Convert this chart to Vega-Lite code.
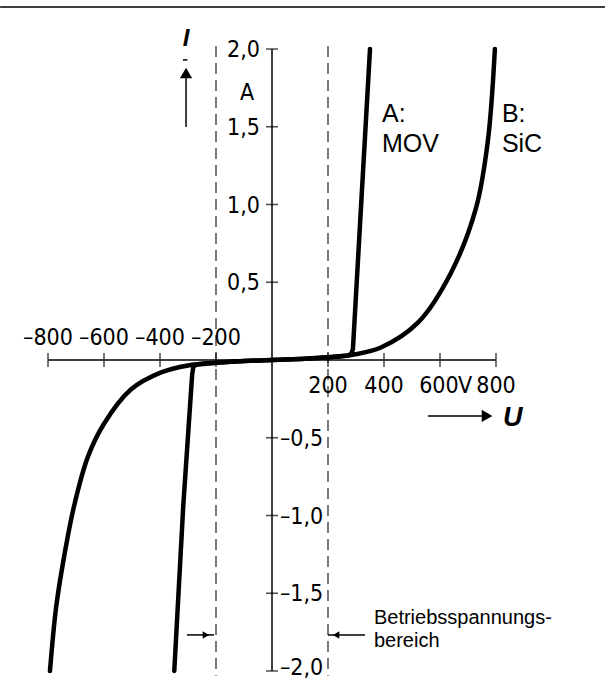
{
  "$schema": "https://vega.github.io/schema/vega-lite/v6.json",
  "width": 448,
  "height": 622,
  "autosize": {"type": "none"},
  "padding": {"left": 48, "top": 49, "right": 109, "bottom": 11},
  "background": "white",
  "config": {"view": {"stroke": null}},
  "datasets": {
    "curves": [
      {"s": "MOV", "u": -349, "i": -2.0},
      {"s": "MOV", "u": -317, "i": -0.94},
      {"s": "MOV", "u": -285, "i": -0.09},
      {"s": "MOV", "u": -281, "i": -0.045},
      {"s": "MOV", "u": -272, "i": -0.03},
      {"s": "MOV", "u": -200, "i": -0.018},
      {"s": "MOV", "u": -100, "i": -0.007},
      {"s": "MOV", "u": 0, "i": 0},
      {"s": "MOV", "u": 100, "i": 0.007},
      {"s": "MOV", "u": 200, "i": 0.017},
      {"s": "MOV", "u": 270, "i": 0.028},
      {"s": "MOV", "u": 283, "i": 0.04},
      {"s": "MOV", "u": 289, "i": 0.07},
      {"s": "MOV", "u": 350, "i": 2.0},
      {"s": "SiC", "u": -793, "i": -2.0},
      {"s": "SiC", "u": -771, "i": -1.59},
      {"s": "SiC", "u": -743, "i": -1.27},
      {"s": "SiC", "u": -707, "i": -0.94},
      {"s": "SiC", "u": -657, "i": -0.62},
      {"s": "SiC", "u": -600, "i": -0.41},
      {"s": "SiC", "u": -504, "i": -0.19},
      {"s": "SiC", "u": -396, "i": -0.08},
      {"s": "SiC", "u": -300, "i": -0.035},
      {"s": "SiC", "u": -200, "i": -0.017},
      {"s": "SiC", "u": -100, "i": -0.007},
      {"s": "SiC", "u": 0, "i": 0},
      {"s": "SiC", "u": 100, "i": 0.007},
      {"s": "SiC", "u": 200, "i": 0.017},
      {"s": "SiC", "u": 293, "i": 0.035},
      {"s": "SiC", "u": 389, "i": 0.08},
      {"s": "SiC", "u": 521, "i": 0.24},
      {"s": "SiC", "u": 639, "i": 0.56},
      {"s": "SiC", "u": 729, "i": 0.98},
      {"s": "SiC", "u": 771, "i": 1.41},
      {"s": "SiC", "u": 796, "i": 2.0}
    ],
    "rules": [
      {"name": "xaxis", "u": -800, "i": 0, "u2": 800, "i2": 0},
      {"name": "yaxis", "u": 0, "i": -2, "u2": 0, "i2": 2},
      {"name": "topline", "u": -971, "i": 2.27, "u2": 1189, "i2": 2.27},
      {"name": "I-shaft", "u": -307, "i": 1.498, "u2": -307, "i2": 1.83},
      {"name": "I-bar", "u": -318, "i": 1.93, "u2": -302, "i2": 1.93},
      {"name": "U-shaft", "u": 557, "i": -0.36, "u2": 770, "i2": -0.36},
      {"name": "B-left", "u": -304, "i": -1.768, "u2": -207, "i2": -1.768},
      {"name": "B-right", "u": 200, "i": -1.768, "u2": 332, "i2": -1.768}
    ],
    "dashes": [
      {"u": -200, "i": 2.02, "i2": -2.03},
      {"u": 200, "i": 2.02, "i2": -2.03}
    ],
    "bigheads": [
      {"u": -307, "i": 1.846, "dir": "up"},
      {"u": 768, "i": -0.36, "dir": "right"}
    ],
    "smallheads": [
      {"u": -236, "i": -1.768, "dir": "right"},
      {"u": 229, "i": -1.768, "dir": "left"}
    ],
    "xticks": [
      {"u": -800, "i": 0}, {"u": -600, "i": 0}, {"u": -400, "i": 0}, {"u": -200, "i": 0},
      {"u": 200, "i": 0}, {"u": 400, "i": 0}, {"u": 600, "i": 0}, {"u": 800, "i": 0}
    ],
    "yticks": [
      {"u": 0, "i": -2}, {"u": 0, "i": -1.5}, {"u": 0, "i": -1}, {"u": 0, "i": -0.5},
      {"u": 0, "i": 0.5}, {"u": 0, "i": 1}, {"u": 0, "i": 1.5}, {"u": 0, "i": 2}
    ],
    "xlabn": [
      {"u": -800, "i": 0, "t": "–800"}, {"u": -600, "i": 0, "t": "–600"},
      {"u": -400, "i": 0, "t": "–400"}, {"u": -200, "i": 0, "t": "–200"}
    ],
    "xlabp": [
      {"u": 200, "i": 0, "t": "200"}, {"u": 400, "i": 0, "t": "400"},
      {"u": 596, "i": 0, "t": "600"}, {"u": 690, "i": 0, "t": "V"},
      {"u": 800, "i": 0, "t": "800"}
    ],
    "ylabp": [
      {"u": 0, "i": 0.5, "t": "0,5"}, {"u": 0, "i": 1, "t": "1,0"},
      {"u": 0, "i": 1.5, "t": "1,5"}, {"u": 0, "i": 2, "t": "2,0"}
    ],
    "ylabn": [
      {"u": 0, "i": -0.5, "t": "–0,5"}, {"u": 0, "i": -1, "t": "–1,0"},
      {"u": 0, "i": -1.5, "t": "–1,5"}, {"u": 0, "i": -2, "t": "–2,0"}
    ],
    "unit": [{"u": -89, "i": 1.72, "t": "A"}],
    "notes": [
      {"u": 393, "i": 1.531, "t": "A:"},
      {"u": 393, "i": 1.338, "t": "MOV"},
      {"u": 821, "i": 1.531, "t": "B:"},
      {"u": 821, "i": 1.338, "t": "SiC"}
    ],
    "range": [
      {"u": 364, "i": -1.698, "t": "Betriebsspannungs-"},
      {"u": 364, "i": -1.846, "t": "bereich"}
    ],
    "sym": [
      {"u": -307, "i": 2.02, "t": "I", "k": "I"},
      {"u": 825, "i": -0.373, "t": "U", "k": "U"}
    ]
  },
  "encoding": {
    "x": {"field": "u", "type": "quantitative", "scale": {"domain": [-800, 800], "nice": false, "zero": false}, "axis": null},
    "y": {"field": "i", "type": "quantitative", "scale": {"domain": [-2, 2], "nice": false, "zero": false}, "axis": null}
  },
  "layer": [
    {
      "data": {"name": "dashes"},
      "mark": {"type": "rule", "stroke": "#333333", "strokeWidth": 1.3, "strokeDash": [11, 6]},
      "encoding": {"y2": {"field": "i2"}}
    },
    {
      "data": {"name": "rules"},
      "mark": {"type": "rule", "stroke": "black", "strokeWidth": 1.5},
      "encoding": {"x2": {"field": "u2"}, "y2": {"field": "i2"}}
    },
    {
      "data": {"name": "xticks"},
      "mark": {"type": "tick", "orient": "vertical", "size": 14, "thickness": 1.5, "color": "black"}
    },
    {
      "data": {"name": "yticks"},
      "mark": {"type": "tick", "orient": "horizontal", "size": 12, "thickness": 1.5, "color": "black"}
    },
    {
      "data": {"name": "curves"},
      "transform": [{"filter": "datum.s === 'SiC'"}],
      "mark": {"type": "line", "stroke": "black", "strokeWidth": 4.5, "interpolate": "catmull-rom", "strokeCap": "round"},
      "encoding": {"order": {"field": "u"}}
    },
    {
      "data": {"name": "curves"},
      "transform": [{"filter": "datum.s === 'MOV'"}],
      "mark": {"type": "line", "stroke": "black", "strokeWidth": 4.5, "interpolate": "linear", "strokeCap": "round", "strokeJoin": "round"},
      "encoding": {"order": {"field": "u"}}
    },
    {
      "data": {"name": "bigheads"},
      "mark": {"type": "point", "filled": true, "color": "black", "size": 150, "opacity": 1},
      "encoding": {"shape": {"field": "dir", "type": "nominal", "scale": {"domain": ["up", "right", "left"], "range": ["triangle-up", "triangle-right", "triangle-left"]}, "legend": null}}
    },
    {
      "data": {"name": "smallheads"},
      "mark": {"type": "point", "filled": true, "color": "black", "size": 55, "opacity": 1},
      "encoding": {"shape": {"field": "dir", "type": "nominal", "scale": {"domain": ["up", "right", "left"], "range": ["triangle-up", "triangle-right", "triangle-left"]}, "legend": null}}
    },
    {
      "data": {"name": "xlabn"},
      "mark": {"type": "text", "font": "DejaVu Sans Condensed, sans-serif", "fontSize": 23, "align": "center", "baseline": "alphabetic", "dy": -15, "color": "black"},
      "encoding": {"text": {"field": "t"}}
    },
    {
      "data": {"name": "xlabp"},
      "mark": {"type": "text", "font": "DejaVu Sans Condensed, sans-serif", "fontSize": 23, "align": "center", "baseline": "alphabetic", "dy": 33, "color": "black"},
      "encoding": {"text": {"field": "t"}}
    },
    {
      "data": {"name": "ylabp"},
      "mark": {"type": "text", "font": "DejaVu Sans Condensed, sans-serif", "fontSize": 23, "align": "right", "baseline": "middle", "dx": -12, "dy": 1, "color": "black"},
      "encoding": {"text": {"field": "t"}}
    },
    {
      "data": {"name": "ylabn"},
      "transform": [{"filter": "datum.i > -2"}],
      "mark": {"type": "text", "font": "DejaVu Sans Condensed, sans-serif", "fontSize": 23, "align": "left", "baseline": "middle", "dx": 8, "dy": 1, "color": "black"},
      "encoding": {"text": {"field": "t"}}
    },
    {
      "data": {"name": "ylabn"},
      "transform": [{"filter": "datum.i <= -2"}],
      "mark": {"type": "text", "font": "DejaVu Sans Condensed, sans-serif", "fontSize": 23, "align": "left", "baseline": "bottom", "dx": 8, "dy": 9, "color": "black"},
      "encoding": {"text": {"field": "t"}}
    },
    {
      "data": {"name": "unit"},
      "mark": {"type": "text", "font": "DejaVu Sans Condensed, sans-serif", "fontSize": 23, "align": "center", "baseline": "middle", "color": "black"},
      "encoding": {"text": {"field": "t"}}
    },
    {
      "data": {"name": "notes"},
      "mark": {"type": "text", "font": "Liberation Sans, Arial, sans-serif", "fontSize": 25, "align": "left", "baseline": "alphabetic", "color": "black"},
      "encoding": {"text": {"field": "t"}}
    },
    {
      "data": {"name": "range"},
      "mark": {"type": "text", "font": "Liberation Sans, Arial, sans-serif", "fontSize": 20, "align": "left", "baseline": "alphabetic", "color": "black"},
      "encoding": {"text": {"field": "t"}}
    },
    {
      "data": {"name": "sym"},
      "transform": [{"filter": "datum.k === 'I'"}],
      "mark": {"type": "text", "font": "Liberation Sans, Arial, sans-serif", "fontSize": 24, "fontWeight": "bold", "fontStyle": "italic", "align": "center", "baseline": "alphabetic", "color": "black"},
      "encoding": {"text": {"field": "t"}}
    },
    {
      "data": {"name": "sym"},
      "transform": [{"filter": "datum.k === 'U'"}],
      "mark": {"type": "text", "font": "Liberation Sans, Arial, sans-serif", "fontSize": 27, "fontWeight": "bold", "fontStyle": "italic", "align": "left", "baseline": "middle", "color": "black"},
      "encoding": {"text": {"field": "t"}}
    }
  ]
}
